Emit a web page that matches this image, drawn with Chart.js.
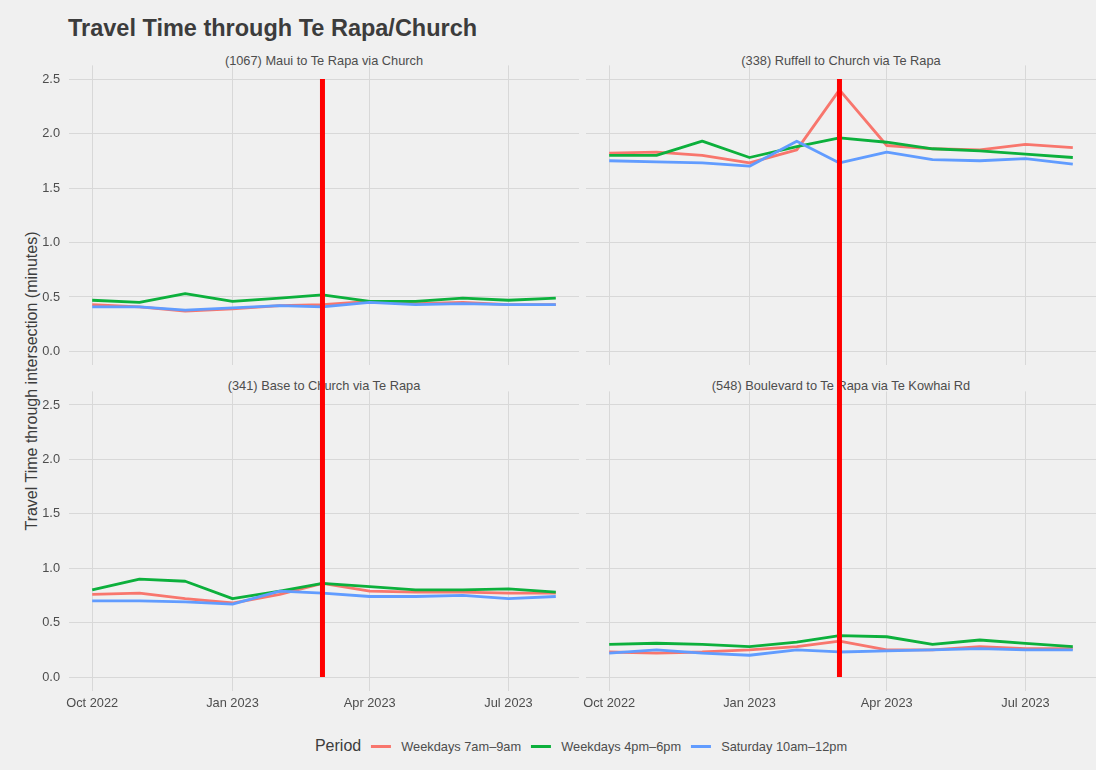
<!DOCTYPE html>
<html>
<head>
<meta charset="utf-8">
<script src="https://cdn.jsdelivr.net/npm/chart.js@4.4.1/dist/chart.umd.min.js"></script>
<style>
  html, body { margin: 0; padding: 0; background: #F0F0F0; }
  #page { position: relative; width: 1096px; height: 770px; overflow: hidden;
          font-family: "Liberation Sans", Arial, sans-serif; color: #3C3C3C; }
  #page canvas { position: absolute; left: 0; top: 0; z-index: 2; }
  .txt { position: absolute; z-index: 1; white-space: nowrap; }
  #title { left: 68px; top: 15px; font-size: 23.5px; font-weight: bold; line-height: 26px; color: #3C3C3C; }
  .strip { font-size: 12.8px; line-height: 14px; text-align: center; width: 510px; color: #4D4D4D; }
  #ytitle { left: 32px; top: 381px; font-size: 16px; line-height: 18px; color: #3C3C3C;
            transform: translate(-50%, -50%) rotate(-90deg); }
  #legend { left: 586px; top: 746px; transform: translate(-50%, -50%);
            display: flex; align-items: center; color: #3C3C3C; }
  #legend .ltitle { font-size: 16px; margin-right: 10px; }
  #legend .key { display: inline-block; width: 20px; height: 3px; margin-right: 10px; }
  #legend .lab { font-size: 12.8px; margin-right: 10px; color: #4D4D4D; }
</style>
</head>
<body>
<div id="page">
  <div id="title" class="txt">Travel Time through Te Rapa/Church</div>
  <div id="ytitle" class="txt">Travel Time through intersection (minutes)</div>
  <div id="strip0" class="txt strip" style="left:69px;top:54px;"></div>
  <div id="strip1" class="txt strip" style="left:586px;top:54px;"></div>
  <div id="strip2" class="txt strip" style="left:69px;top:379px;"></div>
  <div id="strip3" class="txt strip" style="left:586px;top:379px;"></div>
  <div id="legend" class="txt"></div>
  <canvas id="c0" width="1096" height="770"></canvas>
  <canvas id="c1" width="1096" height="770"></canvas>
  <canvas id="c2" width="1096" height="770"></canvas>
  <canvas id="c3" width="1096" height="770"></canvas>
</div>
<script>
// Monthly observation dates
const months = ['2022-10-01','2022-11-01','2022-12-01','2023-01-01','2023-02-01','2023-03-01',
                '2023-04-01','2023-05-01','2023-06-01','2023-07-01','2023-08-01'];

// Facet titles
const routes = ['(1067) Maui to Te Rapa via Church',
                '(338) Ruffell to Church via Te Rapa',
                '(341) Base to Church via Te Rapa',
                '(548) Boulevard to Te Rapa via Te Kowhai Rd'];

// Period names (legend order)
const periods = ['Weekdays 7am\u20139am', 'Weekdays 4pm\u20136pm', 'Saturday 10am\u201312pm'];

// Travel time in minutes, one array per route and period
const maui_am   = [0.43, 0.41, 0.37, 0.39, 0.42, 0.43, 0.46, 0.44, 0.45, 0.43, 0.43];
const maui_pm   = [0.47, 0.45, 0.53, 0.46, 0.49, 0.52, 0.46, 0.46, 0.49, 0.47, 0.49];
const maui_sat  = [0.41, 0.41, 0.38, 0.40, 0.42, 0.41, 0.45, 0.43, 0.44, 0.43, 0.43];

const ruffell_am  = [1.82, 1.83, 1.80, 1.73, 1.85, 2.40, 1.89, 1.86, 1.85, 1.90, 1.87];
const ruffell_pm  = [1.80, 1.80, 1.93, 1.78, 1.88, 1.96, 1.92, 1.86, 1.84, 1.81, 1.78];
const ruffell_sat = [1.75, 1.74, 1.73, 1.70, 1.93, 1.73, 1.83, 1.76, 1.75, 1.77, 1.72];

const base_am  = [0.76, 0.77, 0.72, 0.68, 0.76, 0.86, 0.79, 0.78, 0.78, 0.77, 0.77];
const base_pm  = [0.80, 0.90, 0.88, 0.72, 0.79, 0.86, 0.83, 0.80, 0.80, 0.81, 0.78];
const base_sat = [0.70, 0.70, 0.69, 0.67, 0.79, 0.77, 0.74, 0.74, 0.75, 0.72, 0.74];

const boulevard_am  = [0.23, 0.22, 0.23, 0.25, 0.28, 0.33, 0.25, 0.25, 0.28, 0.26, 0.26];
const boulevard_pm  = [0.30, 0.31, 0.30, 0.28, 0.32, 0.38, 0.37, 0.30, 0.34, 0.31, 0.28];
const boulevard_sat = [0.22, 0.25, 0.22, 0.20, 0.25, 0.23, 0.24, 0.25, 0.26, 0.25, 0.25];

// Axis breaks
const xTickDates  = ['2022-10-01', '2023-01-01', '2023-04-01', '2023-07-01'];
const xTickLabels = ['Oct 2022', 'Jan 2023', 'Apr 2023', 'Jul 2023'];
const yTicks = [0, 0.5, 1.0, 1.5, 2.0, 2.5];
const yLimits = [0, 2.5];

// Intervention date marked on every panel
const markerDate = '2023-03-01';

const seriesColors = ['#F8766D', '#0CB03C', '#619CFF'];
const FONT = "'Liberation Sans', Arial, sans-serif";

const panelSeries = [
  [maui_am, maui_pm, maui_sat],
  [ruffell_am, ruffell_pm, ruffell_sat],
  [base_am, base_pm, base_sat],
  [boulevard_am, boulevard_pm, boulevard_sat]
];

// Dates are plotted as days since the first observation
const origin = Date.parse(months[0]);
const toDay = d => Math.round((Date.parse(d) - origin) / 86400000);
const monthDays = months.map(toDay);
const xTickDays = xTickDates.map(toDay);
const markerDay = toDay(markerDate);

// ggplot-style 5% expansion of the continuous ranges
const dMin = Math.min(...monthDays), dMax = Math.max(...monthDays);
const xPad = (dMax - dMin) * 0.05;
const yPad = (yLimits[1] - yLimits[0]) * 0.05;

// Panel placement on the shared page-sized canvases
const panelBoxes = [
  { left: 69,  right: 579,  top: 65.4,  bottom: 365.1, col: 0, row: 0 },
  { left: 586, right: 1096, top: 65.4,  bottom: 365.1, col: 1, row: 0 },
  { left: 69,  right: 579,  top: 391.4, bottom: 690.6, col: 0, row: 1 },
  { left: 586, right: 1096, top: 391.4, bottom: 690.6, col: 1, row: 1 }
];
const Y_AXIS_W = 40, X_AXIS_H = 30, W = 1096, H = 770;

routes.forEach((r, i) => { document.getElementById('strip' + i).textContent = r; });

// Legend
const legend = document.getElementById('legend');
legend.innerHTML = '<span class="ltitle">Period</span>' + periods.map((p, i) =>
  '<span class="key" style="background:' + seriesColors[i] + '"></span><span class="lab">' + p + '</span>'
).join('');

const charts = [];

// Red marker line: drawn by each bottom panel, spanning from the panel above (2.5) down to 0
const markerPlugin = {
  id: 'markerLine',
  afterDraw(chart, args, opts) {
    if (!opts || !opts.above) return;
    const upper = charts[opts.above - 1];
    if (!upper) return;
    const ctx = chart.ctx;
    const x = chart.scales.x.getPixelForValue(markerDay);
    const y0 = upper.scales.y.getPixelForValue(yLimits[1]);
    const y1 = chart.scales.y.getPixelForValue(yLimits[0]);
    ctx.save();
    ctx.strokeStyle = '#FF0000';
    ctx.lineWidth = 5;
    ctx.lineCap = 'butt';
    ctx.beginPath();
    ctx.moveTo(x, y0);
    ctx.lineTo(x, y1);
    ctx.stroke();
    ctx.restore();
  }
};

panelBoxes.forEach((box, i) => {
  const showY = box.col === 0;
  const showX = box.row === 1;
  const yW = showY ? Y_AXIS_W : 0;
  const xH = showX ? X_AXIS_H : 0;
  const datasets = panelSeries[i].map((vals, k) => ({
    label: periods[k],
    data: vals.map((v, j) => ({ x: monthDays[j], y: v })),
    borderColor: seriesColors[k],
    backgroundColor: seriesColors[k],
    borderWidth: 2.8,
    pointRadius: 0,
    pointHoverRadius: 0,
    tension: 0,
    borderJoinStyle: 'round',
    borderCapStyle: 'butt',
    order: 2 - k
  }));
  const chart = new Chart(document.getElementById('c' + i), {
    type: 'line',
    data: { datasets },
    options: {
      responsive: false,
      animation: false,
      devicePixelRatio: 1,
      events: [],
      layout: {
        padding: {
          left: box.left - yW,
          right: W - box.right,
          top: box.top,
          bottom: H - box.bottom - xH
        }
      },
      plugins: {
        legend: { display: false },
        title: { display: false },
        tooltip: { enabled: false },
        markerLine: { above: box.row === 1 ? (i - 2) + 1 : 0 }
      },
      scales: {
        x: {
          type: 'linear',
          min: dMin - xPad,
          max: dMax + xPad,
          afterBuildTicks: s => { s.ticks = xTickDays.map(v => ({ value: v })); },
          afterFit: s => { s.height = xH; },
          grid: { color: '#D8D8D8', lineWidth: 1, drawTicks: false },
          border: { display: false },
          ticks: {
            display: showX,
            autoSkip: false,
            maxRotation: 0,
            padding: 5,
            color: '#4D4D4D',
            font: { family: FONT, size: 12.8 },
            callback: (v, idx) => xTickLabels[idx]
          }
        },
        y: {
          type: 'linear',
          min: yLimits[0] - yPad,
          max: yLimits[1] + yPad,
          afterBuildTicks: s => { s.ticks = yTicks.map(v => ({ value: v })); },
          afterFit: s => { s.width = yW; },
          grid: { color: '#D8D8D8', lineWidth: 1, drawTicks: false },
          border: { display: false },
          ticks: {
            display: showY,
            padding: 9,
            color: '#4D4D4D',
            font: { family: FONT, size: 12.8 },
            callback: v => Number(v).toFixed(1)
          }
        }
      }
    },
    plugins: [markerPlugin]
  });
  charts.push(chart);
});
</script>
</body>
</html>
